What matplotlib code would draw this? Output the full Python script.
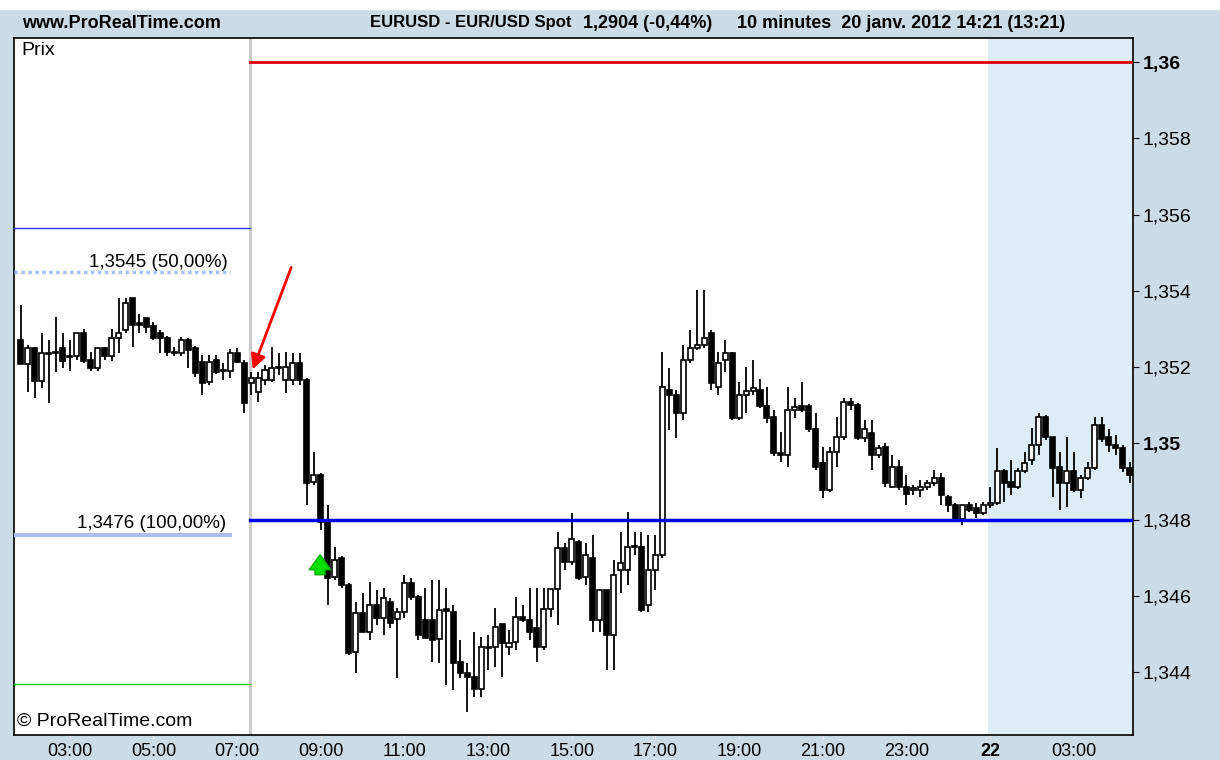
import matplotlib.pyplot as plt
import numpy as np

# EUR/USD 10 minute candles (20-22 Jan 2012)
opens = [1.35271, 1.35208, 1.35250, 1.35163, 1.35237, 1.35237, 1.35250, 1.35229, 1.35229, 1.35289,
         1.35218, 1.35197, 1.35250, 1.35229, 1.35276, 1.35297, 1.35381, 1.35315, 1.35329, 1.35308,
         1.35289, 1.35276, 1.35239, 1.35237, 1.35271, 1.35250, 1.35213, 1.35161, 1.35218, 1.35190,
         1.35190, 1.35237, 1.35210, 1.35158, 1.35134, 1.35166, 1.35166, 1.35197, 1.35166, 1.35166,
         1.35210, 1.35166, 1.34898, 1.34917, 1.34793, 1.34649, 1.34699, 1.34628, 1.34452, 1.34555,
         1.34505, 1.34576, 1.34542, 1.34584, 1.34539, 1.34557, 1.34633, 1.34597, 1.34536, 1.34536,
         1.34487, 1.34565, 1.34557, 1.34426, 1.34397, 1.34387, 1.34355, 1.34466, 1.34466, 1.34526,
         1.34466, 1.34479, 1.34544, 1.34536, 1.34515, 1.34466, 1.34565, 1.34618, 1.34725, 1.34689,
         1.34741, 1.34649, 1.34699, 1.34536, 1.34615, 1.34497, 1.34668, 1.34668, 1.34728, 1.34728,
         1.34576, 1.34668, 1.34707, 1.35140, 1.35127, 1.35079, 1.35218, 1.35250, 1.35258, 1.35289,
         1.35148, 1.35218, 1.35237, 1.35066, 1.35127, 1.35137, 1.35140, 1.35098, 1.35069, 1.34974,
         1.34969, 1.35087, 1.35098, 1.35098, 1.35037, 1.34948, 1.34877, 1.34977, 1.35016, 1.35108,
         1.35100, 1.35014, 1.35027, 1.34969, 1.34990, 1.34885, 1.34938, 1.34885, 1.34877, 1.34877,
         1.34885, 1.34896, 1.34909, 1.34859, 1.34838, 1.34801, 1.34838, 1.34830, 1.34817, 1.34838,
         1.34843, 1.34927, 1.34898, 1.34885, 1.34927, 1.34956, 1.34995, 1.35069, 1.35016, 1.34938,
         1.34896, 1.34927, 1.34877, 1.34909, 1.34935, 1.35048, 1.35016, 1.34995, 1.34988, 1.34935]
highs = [1.35363, 1.35258, 1.35252, 1.35289, 1.35271, 1.35331, 1.35289, 1.35271, 1.35289, 1.35300,
         1.35239, 1.35250, 1.35252, 1.35300, 1.35381, 1.35381, 1.35381, 1.35339, 1.35329, 1.35318,
         1.35297, 1.35281, 1.35252, 1.35279, 1.35276, 1.35255, 1.35231, 1.35231, 1.35231, 1.35210,
         1.35247, 1.35250, 1.35218, 1.35187, 1.35187, 1.35205, 1.35252, 1.35237, 1.35239, 1.35237,
         1.35237, 1.35171, 1.34977, 1.34922, 1.34838, 1.34728, 1.34704, 1.34633, 1.34584, 1.34607,
         1.34636, 1.34615, 1.34620, 1.34594, 1.34568, 1.34654, 1.34647, 1.34602, 1.34620, 1.34641,
         1.34641, 1.34620, 1.34576, 1.34484, 1.34424, 1.34505, 1.34492, 1.34497, 1.34568, 1.34526,
         1.34510, 1.34597, 1.34576, 1.34620, 1.34620, 1.34620, 1.34615, 1.34767, 1.34738, 1.34817,
         1.34746, 1.34738, 1.34759, 1.34615, 1.34615, 1.34694, 1.34767, 1.34820, 1.34767, 1.34767,
         1.34759, 1.34759, 1.35239, 1.35197, 1.35140, 1.35258, 1.35297, 1.35402, 1.35402, 1.35297,
         1.35239, 1.35271, 1.35239, 1.35161, 1.35200, 1.35218, 1.35169, 1.35148, 1.35087, 1.35030,
         1.35148, 1.35119, 1.35161, 1.35103, 1.35079, 1.34990, 1.34990, 1.35069, 1.35119, 1.35119,
         1.35106, 1.35061, 1.35061, 1.34995, 1.35001, 1.34969, 1.34956, 1.34917, 1.34891, 1.34904,
         1.34904, 1.34930, 1.34922, 1.34864, 1.34843, 1.34838, 1.34846, 1.34843, 1.34846, 1.34885,
         1.34988, 1.34933, 1.34956, 1.34935, 1.34977, 1.35040, 1.35079, 1.35074, 1.35016, 1.34977,
         1.35016, 1.34977, 1.34917, 1.34951, 1.35069, 1.35069, 1.35037, 1.35022, 1.34995, 1.34951]
lows = [1.35208, 1.35134, 1.35119, 1.35145, 1.35106, 1.35187, 1.35197, 1.35190, 1.35218, 1.35210,
        1.35190, 1.35190, 1.35218, 1.35216, 1.35237, 1.35289, 1.35252, 1.35289, 1.35289, 1.35271,
        1.35237, 1.35229, 1.35229, 1.35229, 1.35197, 1.35174, 1.35127, 1.35153, 1.35182, 1.35166,
        1.35171, 1.35210, 1.35079, 1.35127, 1.35108, 1.35153, 1.35161, 1.35179, 1.35132, 1.35153,
        1.35153, 1.34838, 1.34891, 1.34772, 1.34576, 1.34641, 1.34620, 1.34445, 1.34397, 1.34505,
        1.34484, 1.34523, 1.34497, 1.34515, 1.34384, 1.34542, 1.34589, 1.34484, 1.34489, 1.34426,
        1.34424, 1.34366, 1.34353, 1.34384, 1.34295, 1.34334, 1.34334, 1.34405, 1.34413, 1.34387,
        1.34445, 1.34458, 1.34531, 1.34484, 1.34426, 1.34458, 1.34544, 1.34523, 1.34668, 1.34681,
        1.34641, 1.34628, 1.34505, 1.34505, 1.34405, 1.34405, 1.34607, 1.34628, 1.34707, 1.34557,
        1.34557, 1.34615, 1.34699, 1.35035, 1.35014, 1.35061, 1.35210, 1.35245, 1.35250, 1.35140,
        1.35127, 1.35187, 1.35061, 1.35061, 1.35079, 1.35127, 1.35092, 1.35053, 1.34966, 1.34951,
        1.34938, 1.35066, 1.35082, 1.35030, 1.34930, 1.34856, 1.34872, 1.34938, 1.35009, 1.35087,
        1.35009, 1.35003, 1.34930, 1.34961, 1.34885, 1.34883, 1.34877, 1.34838, 1.34864, 1.34859,
        1.34877, 1.34888, 1.34838, 1.34820, 1.34793, 1.34786, 1.34820, 1.34804, 1.34812, 1.34830,
        1.34838, 1.34846, 1.34864, 1.34880, 1.34922, 1.34943, 1.34969, 1.35009, 1.34859, 1.34825,
        1.34833, 1.34872, 1.34856, 1.34904, 1.34930, 1.35003, 1.34977, 1.34969, 1.34925, 1.34896]
closes = [1.35208, 1.35250, 1.35163, 1.35237, 1.35235, 1.35239, 1.35216, 1.35227, 1.35289, 1.35216,
          1.35197, 1.35250, 1.35229, 1.35276, 1.35289, 1.35368, 1.35310, 1.35310, 1.35305, 1.35276,
          1.35276, 1.35239, 1.35237, 1.35271, 1.35245, 1.35184, 1.35158, 1.35213, 1.35187, 1.35189,
          1.35237, 1.35213, 1.35106, 1.35171, 1.35171, 1.35192, 1.35197, 1.35200, 1.35200, 1.35210,
          1.35166, 1.34896, 1.34917, 1.34793, 1.34647, 1.34694, 1.34628, 1.34450, 1.34555, 1.34505,
          1.34576, 1.34542, 1.34594, 1.34529, 1.34557, 1.34633, 1.34597, 1.34497, 1.34489, 1.34484,
          1.34563, 1.34560, 1.34424, 1.34397, 1.34387, 1.34355, 1.34466, 1.34464, 1.34518, 1.34476,
          1.34476, 1.34544, 1.34536, 1.34505, 1.34466, 1.34565, 1.34618, 1.34725, 1.34689, 1.34749,
          1.34647, 1.34707, 1.34536, 1.34615, 1.34497, 1.34654, 1.34686, 1.34728, 1.34730, 1.34563,
          1.34668, 1.34707, 1.35148, 1.35127, 1.35079, 1.35218, 1.35250, 1.35258, 1.35276, 1.35158,
          1.35210, 1.35237, 1.35066, 1.35127, 1.35137, 1.35145, 1.35098, 1.35066, 1.34974, 1.34969,
          1.35087, 1.35095, 1.35087, 1.35037, 1.34938, 1.34877, 1.34977, 1.35016, 1.35108, 1.35100,
          1.35014, 1.35037, 1.34969, 1.34988, 1.34896, 1.34938, 1.34885, 1.34867, 1.34883, 1.34885,
          1.34896, 1.34909, 1.34864, 1.34838, 1.34801, 1.34838, 1.34825, 1.34817, 1.34838, 1.34843,
          1.34927, 1.34896, 1.34885, 1.34927, 1.34948, 1.34995, 1.35069, 1.35016, 1.34935, 1.34896,
          1.34927, 1.34877, 1.34909, 1.34935, 1.35048, 1.35011, 1.34995, 1.34988, 1.34935, 1.34917]

# x axis labels (one every 12 bars = 2 hours)
tick_bars = [7, 19, 31, 43, 55, 67, 79, 91, 103, 115, 127, 139, 151]
tick_labels = ['03:00', '05:00', '07:00', '09:00', '11:00', '13:00', '15:00',
               '17:00', '19:00', '21:00', '23:00', '22', '03:00']

# price axis
price_ticks = [1.344, 1.346, 1.348, 1.350, 1.352, 1.354, 1.356, 1.358, 1.360]
price_labels = ['1,344', '1,346', '1,348', '1,35', '1,352', '1,354', '1,356', '1,358', '1,36']

# drawn levels
red_level = 1.360
blue_level = 1.348
fib_levels = [1.35565, 1.3545, 1.3476, 1.34369]

plt.rcParams['font.family'] = ['Liberation Sans', 'DejaVu Sans']

band = '#ccdce6'
fig = plt.figure(figsize=(12.2, 7.6), dpi=100, facecolor=band)

# thin white strip above the header band
fig.patches.append(plt.Rectangle((0, 1 - 9 / 760), 1, 9 / 760, transform=fig.transFigure,
                                 color='white', zorder=0))

ax = fig.add_axes([14 / 1220, 25 / 760, 1119 / 1220, 697 / 760])
ax.set_facecolor('white')

x = np.arange(len(opens))
o = np.array(opens)
h = np.array(highs)
l = np.array(lows)
c = np.array(closes)

# weekend / next session shading
ax.axvspan(138.7, 170, color='#deedf5', zorder=0, lw=0)

# split marker between history and live part
ax.axvline(32.85, color='#c8c8c8', lw=2, zorder=1)

# wicks
ax.vlines(x, l, h, color='black', lw=1.3, zorder=2)

# bodies
up = c >= o
bottoms = np.minimum(o, c)
heights = np.maximum(np.abs(c - o), 0.00002)
ax.bar(x[up], heights[up], bottom=bottoms[up], width=0.72,
       color='white', edgecolor='black', linewidth=1.2, zorder=3)
ax.bar(x[~up], heights[~up], bottom=bottoms[~up], width=0.72,
       color='black', edgecolor='black', linewidth=1.2, zorder=3)

# horizontal levels on the live part
ax.axhline(red_level, xmin=0.211, xmax=1, color='#e00000', lw=2, zorder=4)
ax.axhline(blue_level, xmin=0.211, xmax=1, color='#0000ee', lw=2.5, zorder=4)

# fibonacci levels on the left part
ax.axhline(fib_levels[0], xmin=0, xmax=0.211, color='#3030ff', lw=1, zorder=4)
ax.axhline(fib_levels[1], xmin=0, xmax=0.193, color='#a8c0f0', lw=2.5, ls=(0, (1, 1)), zorder=4)
ax.axhline(fib_levels[2], xmin=0, xmax=0.193, color='#a8c0f0', lw=3, zorder=4)
ax.axhline(fib_levels[3], xmin=0, xmax=0.211, color='#00cc00', lw=1, zorder=4)
ax.text(29.7, fib_levels[1] + 0.00025, '1,3545 (50,00%)', ha='right', va='center', fontsize=13.5)
ax.text(29.4, fib_levels[2] + 0.0003, '1,3476 (100,00%)', ha='right', va='center', fontsize=13.5)

# red sell arrow and green buy arrow
ax.annotate('', xy=(33.1, 1.35187), xytext=(38.9, 1.35468),
            arrowprops=dict(arrowstyle='-|>', color='#ff0000', lw=2, mutation_scale=22), zorder=6)
ax.annotate('', xy=(42.9, 1.34715), xytext=(42.9, 1.34648),
            arrowprops=dict(arrowstyle='simple,head_width=1.3,head_length=0.9,tail_width=0.6',
                            color='#00e000', ec='#00b000', mutation_scale=12), zorder=6)

ax.text(0.007, 0.982, 'Prix', transform=ax.transAxes, ha='left', va='center', fontsize=14)
ax.text(0.003, 0.019, '\u00a9 ProRealTime.com', transform=ax.transAxes, ha='left', va='center', fontsize=14)

ax.set_xlim(-1, 159.5)
ax.set_ylim(1.34235, 1.36063)

ax.set_xticks(tick_bars)
ax.set_xticklabels(tick_labels, fontsize=13)
for lab in ax.get_xticklabels():
    if lab.get_text() == '22':
        lab.set_fontweight('bold')
ax.tick_params(axis='x', length=3, color='#e8e8e8', pad=3)

ax.yaxis.tick_right()
ax.set_yticks(price_ticks)
ax.set_yticklabels(price_labels, fontsize=14)
for lab in ax.get_yticklabels():
    if lab.get_text() in ('1,35', '1,36'):
        lab.set_fontweight('bold')
ax.tick_params(axis='y', length=4, pad=3)

for side in ax.spines.values():
    side.set_color('black')
    side.set_linewidth(1.2)

# header band
fig.text(22 / 1220, 1 - 23 / 760, 'www.ProRealTime.com', fontsize=13, fontweight='bold', va='center')
fig.text(571 / 1220, 1 - 23 / 760, 'EURUSD - EUR/USD Spot', fontsize=12, fontweight='bold',
         va='center', ha='right')
fig.text(583 / 1220, 1 - 23 / 760, '1,2904 (-0,44%)', fontsize=13, fontweight='bold', va='center')
fig.text(737 / 1220, 1 - 23 / 760, '10 minutes  20 janv. 2012 14:21 (13:21)', fontsize=13,
         fontweight='bold', va='center')

plt.savefig('out.png', dpi=100, facecolor=band)
